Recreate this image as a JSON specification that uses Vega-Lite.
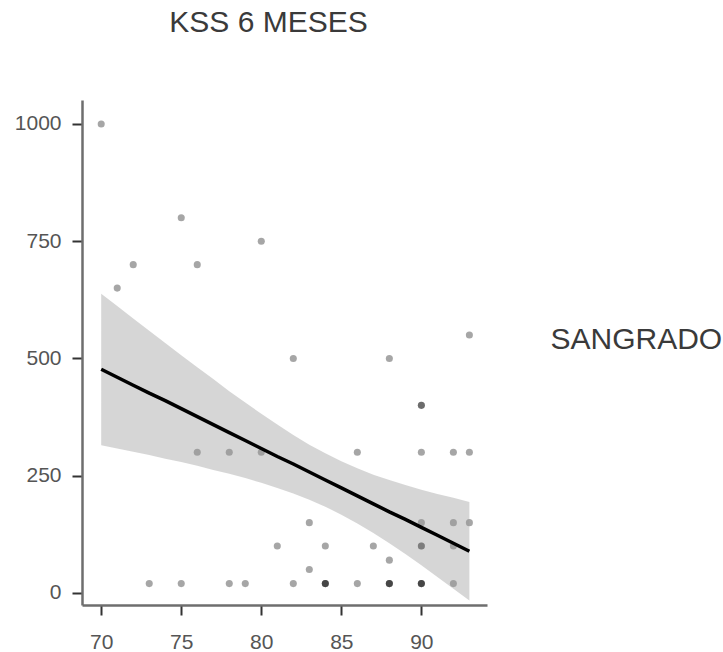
{
  "$schema": "https://vega.github.io/schema/vega-lite/v6.json",
  "width": 405,
  "height": 505,
  "autosize": {"type": "none"},
  "padding": {"left": 82, "top": 100, "right": 236, "bottom": 47},
  "background": "white",
  "title": {
    "text": "KSS 6 MESES",
    "font": "Liberation Sans",
    "fontSize": 30,
    "fontWeight": "normal",
    "color": "#3a3a3a",
    "baseline": "bottom",
    "offset": 32,
    "dx": -16
  },
  "config": {
    "view": {"stroke": null},
    "axis": {
      "grid": false,
      "domainColor": "#6e6e6e",
      "domainWidth": 2.5,
      "tickColor": "#333333",
      "tickWidth": 2,
      "tickSize": 10,
      "labelFont": "Liberation Sans",
      "labelFontSize": 21,
      "labelColor": "#555555",
      "titleFont": "Liberation Sans"
    }
  },
  "datasets": {
    "pts": [
      {"kss": 70, "sangrado": 1000},
      {"kss": 71, "sangrado": 650},
      {"kss": 72, "sangrado": 700},
      {"kss": 73, "sangrado": 20},
      {"kss": 75, "sangrado": 800},
      {"kss": 75, "sangrado": 20},
      {"kss": 76, "sangrado": 700},
      {"kss": 76, "sangrado": 300},
      {"kss": 78, "sangrado": 300},
      {"kss": 78, "sangrado": 20},
      {"kss": 79, "sangrado": 20},
      {"kss": 80, "sangrado": 750},
      {"kss": 80, "sangrado": 300},
      {"kss": 81, "sangrado": 100},
      {"kss": 82, "sangrado": 500},
      {"kss": 82, "sangrado": 20},
      {"kss": 83, "sangrado": 150},
      {"kss": 83, "sangrado": 50},
      {"kss": 84, "sangrado": 100},
      {"kss": 84, "sangrado": 20},
      {"kss": 84, "sangrado": 20},
      {"kss": 84, "sangrado": 20},
      {"kss": 86, "sangrado": 300},
      {"kss": 86, "sangrado": 20},
      {"kss": 87, "sangrado": 100},
      {"kss": 88, "sangrado": 500},
      {"kss": 88, "sangrado": 70},
      {"kss": 88, "sangrado": 20},
      {"kss": 88, "sangrado": 20},
      {"kss": 88, "sangrado": 20},
      {"kss": 90, "sangrado": 400},
      {"kss": 90, "sangrado": 400},
      {"kss": 90, "sangrado": 300},
      {"kss": 90, "sangrado": 150},
      {"kss": 90, "sangrado": 100},
      {"kss": 90, "sangrado": 100},
      {"kss": 90, "sangrado": 20},
      {"kss": 90, "sangrado": 20},
      {"kss": 90, "sangrado": 20},
      {"kss": 92, "sangrado": 300},
      {"kss": 92, "sangrado": 150},
      {"kss": 92, "sangrado": 100},
      {"kss": 92, "sangrado": 20},
      {"kss": 93, "sangrado": 550},
      {"kss": 93, "sangrado": 300},
      {"kss": 93, "sangrado": 150}
    ],
    "fit": [
      {"kss": 70, "fit": 477, "lo": 315, "hi": 638},
      {"kss": 71, "fit": 460, "lo": 308, "hi": 612},
      {"kss": 72, "fit": 443, "lo": 301, "hi": 585},
      {"kss": 73, "fit": 426, "lo": 294, "hi": 559},
      {"kss": 74, "fit": 410, "lo": 286, "hi": 533},
      {"kss": 75, "fit": 393, "lo": 279, "hi": 507},
      {"kss": 76, "fit": 376, "lo": 271, "hi": 481},
      {"kss": 77, "fit": 359, "lo": 262, "hi": 456},
      {"kss": 78, "fit": 342, "lo": 254, "hi": 430},
      {"kss": 79, "fit": 325, "lo": 245, "hi": 406},
      {"kss": 80, "fit": 308, "lo": 235, "hi": 382},
      {"kss": 81, "fit": 291, "lo": 224, "hi": 359},
      {"kss": 82, "fit": 275, "lo": 212, "hi": 337},
      {"kss": 83, "fit": 258, "lo": 199, "hi": 316},
      {"kss": 84, "fit": 241, "lo": 184, "hi": 298},
      {"kss": 85, "fit": 224, "lo": 167, "hi": 281},
      {"kss": 86, "fit": 207, "lo": 148, "hi": 266},
      {"kss": 87, "fit": 190, "lo": 128, "hi": 252},
      {"kss": 88, "fit": 173, "lo": 106, "hi": 241},
      {"kss": 89, "fit": 157, "lo": 83, "hi": 230},
      {"kss": 90, "fit": 140, "lo": 59, "hi": 220},
      {"kss": 91, "fit": 123, "lo": 34, "hi": 211},
      {"kss": 92, "fit": 106, "lo": 9, "hi": 203},
      {"kss": 93, "fit": 89, "lo": -16, "hi": 194}
    ]
  },
  "layer": [
    {
      "data": {"name": "pts"},
      "mark": {"type": "circle", "size": 50, "color": "#000000", "opacity": 0.35},
      "encoding": {
        "x": {
          "field": "kss", "type": "quantitative",
          "scale": {"domain": [68.8, 94.1], "nice": false, "zero": false},
          "axis": {"title": null, "values": [70, 75, 80, 85, 90], "labelPadding": 16}
        },
        "y": {
          "field": "sangrado", "type": "quantitative",
          "scale": {"domain": [-25.6, 1051], "nice": false, "zero": false},
          "axis": {
            "values": [0, 250, 500, 750, 1000],
            "format": "d",
            "labelPadding": 11,
            "title": "SANGRADO",
            "titleAngle": 0,
            "titleAlign": "left",
            "titleBaseline": "middle",
            "titleX": 468,
            "titleY": 239,
            "titleFontSize": 30,
            "titleFontWeight": "normal",
            "titleColor": "#3a3a3a"
          }
        }
      }
    },
    {
      "data": {"name": "fit"},
      "mark": {"type": "area", "color": "#999999", "opacity": 0.4},
      "encoding": {
        "x": {"field": "kss", "type": "quantitative"},
        "y": {"field": "hi", "type": "quantitative"},
        "y2": {"field": "lo"}
      }
    },
    {
      "data": {"name": "fit"},
      "mark": {"type": "line", "color": "#000000", "strokeWidth": 3.5},
      "encoding": {
        "x": {"field": "kss", "type": "quantitative"},
        "y": {"field": "fit", "type": "quantitative"}
      }
    }
  ]
}
